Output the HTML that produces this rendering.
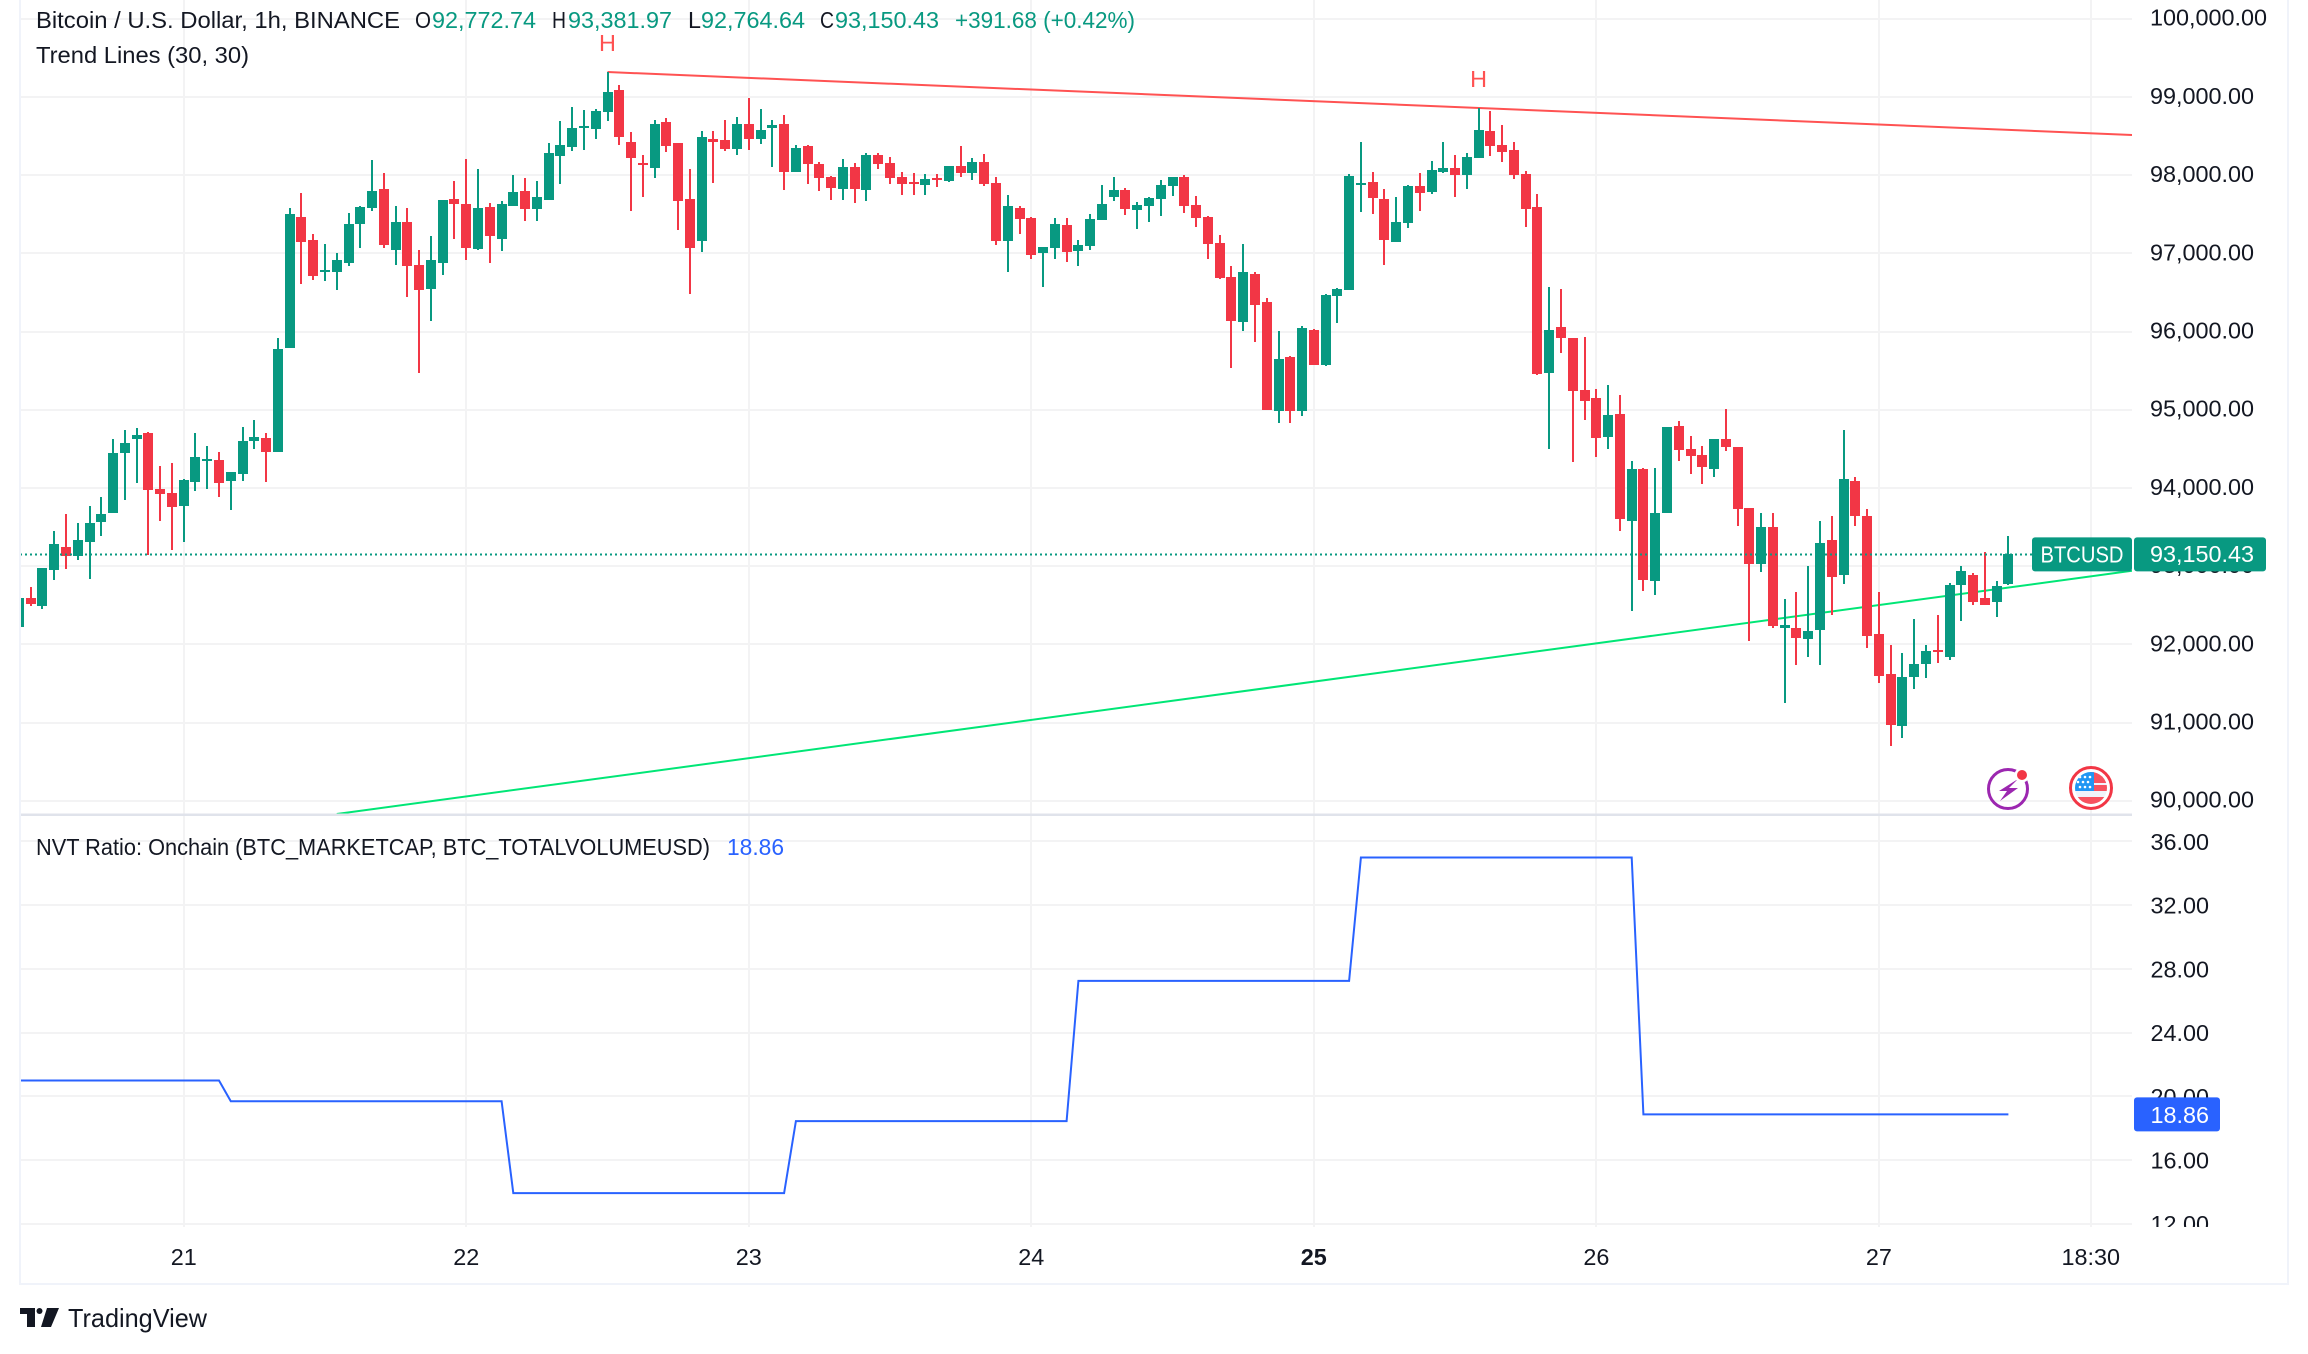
<!DOCTYPE html>
<html lang="en">
<head>
<meta charset="utf-8">
<title>BTCUSD 1h chart with NVT Ratio</title>
<style>
  html,body{margin:0;padding:0;background:#fff;width:2308px;height:1354px;overflow:hidden}
  svg{display:block}
  text{font-family:"Liberation Sans",sans-serif;font-size:23.4px;fill:#131722}
  .up{fill:#089981}
</style>
</head>
<body>
<svg id="chart" xmlns="http://www.w3.org/2000/svg" width="2308" height="1354" viewBox="0 0 2308 1354">
  <defs>
    <clipPath id="price-clip"><rect x="21" y="0" width="2111" height="816"/></clipPath>
    <clipPath id="nvt-clip"><rect x="21" y="816" width="2111" height="411"/></clipPath>
    <clipPath id="nvt-label-clip"><rect x="2134" y="816" width="153" height="411"/></clipPath>
    <clipPath id="flag-clip"><circle cx="2091" cy="788" r="16"/></clipPath>
  </defs>
  <rect x="0" y="0" width="2308" height="1354" fill="#ffffff"/>
  <g id="grid"></g>
  <g id="price-pane" clip-path="url(#price-clip)"></g>
  <g id="nvt-pane" clip-path="url(#nvt-clip)"></g>
  <g id="price-axis"></g>
  <g id="nvt-axis" clip-path="url(#nvt-label-clip)"></g>
  <g id="time-axis"></g>

  <rect x="20" y="813.5" width="2112" height="2.5" fill="#e0e3eb"/>
  <rect x="19" y="0" width="2" height="1285" fill="#f0f3fa"/>
  <rect x="2287" y="0" width="2" height="1285" fill="#f0f3fa"/>
  <rect x="19" y="1283" width="2270" height="2" fill="#f0f3fa"/>

  <g>
    <text x="36" y="28" textLength="364" lengthAdjust="spacingAndGlyphs">Bitcoin / U.S. Dollar, 1h, BINANCE</text>
    <text x="415" y="28" textLength="16" lengthAdjust="spacingAndGlyphs">O</text>
    <text class="up" x="432" y="28" textLength="104" lengthAdjust="spacingAndGlyphs">92,772.74</text>
    <text x="552" y="28" textLength="14" lengthAdjust="spacingAndGlyphs">H</text>
    <text class="up" x="568" y="28" textLength="104" lengthAdjust="spacingAndGlyphs">93,381.97</text>
    <text x="688" y="28">L</text>
    <text class="up" x="701" y="28" textLength="104" lengthAdjust="spacingAndGlyphs">92,764.64</text>
    <text x="820" y="28" textLength="14" lengthAdjust="spacingAndGlyphs">C</text>
    <text class="up" x="835" y="28" textLength="104" lengthAdjust="spacingAndGlyphs">93,150.43</text>
    <text class="up" x="955" y="28" textLength="180" lengthAdjust="spacingAndGlyphs">+391.68 (+0.42%)</text>
    <text x="36" y="63" textLength="213" lengthAdjust="spacingAndGlyphs">Trend Lines (30, 30)</text>
  </g>
  <g>
    <text x="36" y="855" textLength="674" lengthAdjust="spacingAndGlyphs">NVT Ratio: Onchain (BTC_MARKETCAP, BTC_TOTALVOLUMEUSD)</text>
    <text x="727" y="855" textLength="57" lengthAdjust="spacingAndGlyphs" style="fill:#2962ff">18.86</text>
  </g>

  <g>
    <circle cx="2008" cy="789" r="19.5" fill="none" stroke="#9c27b0" stroke-width="3"/>
    <polygon points="2018,779 1999,791 2007,791 2000,801 2018,788 2009,788" fill="#9c27b0"/>
    <circle cx="2022" cy="775" r="7.5" fill="#ffffff"/>
    <circle cx="2022" cy="775" r="5" fill="#f23645"/>
  </g>
  <g>
    <circle cx="2091" cy="788" r="20.5" fill="#ffffff" stroke="#f23645" stroke-width="3"/>
    <g clip-path="url(#flag-clip)">
      <rect x="2075" y="772" width="32" height="32" fill="#f0f3fa"/>
      <rect x="2090" y="772" width="17" height="11" fill="#f7525f"/>
      <rect x="2094" y="785" width="13" height="6" fill="#f7525f"/>
      <rect x="2075" y="797" width="32" height="7" fill="#f7525f"/>
      <rect x="2075" y="772" width="19" height="19" fill="#2196f3"/>
      <g fill="#ffffff">
        <circle cx="2080" cy="777" r="1.3"/><circle cx="2085" cy="777" r="1.3"/><circle cx="2090" cy="777" r="1.3"/>
        <circle cx="2078" cy="782" r="1.3"/><circle cx="2083" cy="782" r="1.3"/><circle cx="2088" cy="782" r="1.3"/>
        <circle cx="2080" cy="787" r="1.3"/><circle cx="2085" cy="787" r="1.3"/><circle cx="2090" cy="787" r="1.3"/>
      </g>
    </g>
  </g>

  <g>
    <path d="M20 1308H35V1327H27V1314H20ZM47 1308H59L51 1327H41Z" fill="#131722"/>
    <circle cx="39.5" cy="1311" r="3" fill="#131722"/>
    <text x="68" y="1327" textLength="139" lengthAdjust="spacingAndGlyphs" style="font-size:26px">TradingView</text>
  </g>
</svg>
<script>
const opens = [
92215,92592,92490,92953,93243,93125,93308,93566,93679,94449,
94626,94702,93986,93938,93771,94077,94347,94357,94088,94180,
94600,94637,94460,95789,97463,97172,96763,96763,96876,97377,
97581,97823,97043,97404,96849,96542,96876,97694,97630,97054,
97592,97183,97608,97796,97565,97683,98243,98361,98614,98593,
98807,99088,98423,98154,98091,98679,98410,97694,97157,98461,
98448,98334,98654,98462,98602,98654,98040,98372,98142,97975,
97822,98103,97809,98257,98154,97975,97911,97873,97963,97924,
98116,98027,98167,97899,97157,97579,97451,97004,97068,97361,
97029,97093,97425,97720,97810,97553,97605,97694,97860,97975,
97617,97464,97131,96696,96121,96735,96376,94981,95672,94981,
96018,95570,96453,96529,97873,97911,97694,97144,97387,97860,
97784,98039,98090,98001,98218,98564,98385,98321,98014,97592,
95469,96057,95916,95251,95148,94656,94951,93581,94246,92815,
93682,94797,94501,94427,94246,94629,94528,93748,93022,93506,
92211,92211,92062,92189,93339,92890,94092,93647,92137,91626,
90961,91586,91753,91930,91841,92762,92890,92586,92546,92772.74];
const highs = [
92592,92732,92980,93448,93668,93550,93771,93884,94626,94739,
94766,94718,94282,94320,94115,94702,94535,94460,94207,94782,
94869,94702,95918,97581,97769,97247,97118,97005,97517,97602,
98194,98028,97608,97581,97043,97220,97683,97925,98205,98076,
97646,97667,98001,97963,97925,98410,98695,98873,98835,98846,
99318,99152,98551,98257,98705,98730,98410,98078,98564,98564,
98705,98743,98986,98845,98705,98769,98385,98385,98167,97988,
98206,98154,98283,98283,98231,98039,98026,98014,98014,98116,
98372,98219,98270,97975,97746,97605,97464,97081,97451,97451,
97170,97502,97873,97975,97835,97656,97720,97937,97975,98001,
97733,97477,97234,96837,97119,96760,96427,96006,95685,96069,
96031,96478,96555,98014,98423,98039,97822,97720,97873,98026,
98180,98423,98257,98283,98858,98820,98641,98423,98052,97758,
96569,96543,95916,95929,95264,95321,95193,94347,94259,94259,
94783,94858,94669,94541,94629,95012,94528,93748,93682,93682,
92573,92674,93004,93581,93647,94744,94145,93735,92674,91996,
91894,92326,91996,92379,92788,93004,92916,93185,92815,93381.97];
const lows = [
92215,92490,92447,92823,92963,93082,92834,93389,93679,93846,
94067,93146,93577,93206,93308,93954,93986,93884,93717,94088,
94497,94077,94460,95789,96607,96661,96645,96532,96838,97070,
97544,97070,96849,96440,95471,96133,96725,97183,96914,97043,
96876,97032,97608,97414,97414,97683,97888,98313,98324,98464,
98692,98385,97541,97720,97963,98295,97297,96479,97016,97899,
98308,98257,98321,98398,98103,97809,98040,97886,97796,97681,
97681,97643,97669,98078,97886,97745,97745,97745,97848,97911,
97975,97937,97860,97106,96760,97247,96927,96569,96927,96888,
96838,97042,97425,97669,97488,97310,97400,97477,97733,97516,
97336,96927,96670,95533,96006,95865,94994,94828,94828,94917,
95570,95557,96108,96529,97527,97502,96850,97144,97323,97540,
97758,98026,97720,97822,98218,98244,98167,97950,97336,95443,
94497,95724,94331,94867,94394,94501,93453,92432,92687,92634,
93682,94347,94184,94052,94145,94475,93519,92048,92929,92211,
91243,91740,91841,91740,92379,92775,93519,91956,91511,90705,
90806,91432,91573,91767,91793,92304,92506,92506,92352,92764.64];
const closes = [
92592,92511,92980,93286,93125,93335,93550,93668,94449,94578,
94680,93970,93921,93755,94104,94395,94373,94067,94207,94600,
94653,94460,95778,97506,97145,96709,96790,96914,97377,97597,
97796,97107,97404,96838,96532,96914,97683,97630,97070,97581,
97221,97630,97786,97565,97721,98286,98388,98604,98630,98819,
99063,98487,98219,98129,98654,98372,97669,97068,98487,98423,
98334,98654,98462,98577,98640,98040,98346,98142,97963,97835,
98103,97822,98257,98142,97963,97886,97886,97950,97937,98116,
98027,98167,97886,97157,97605,97438,96978,97081,97374,97016,
97106,97438,97630,97810,97567,97617,97707,97873,97975,97605,
97451,97119,96683,96134,96760,96338,94994,95646,94981,96043,
95570,96465,96542,97987,97899,97707,97170,97400,97860,97771,
98065,98090,98001,98231,98577,98372,98295,98001,97566,95456,
96018,95916,95238,95110,94637,94937,93607,94246,92828,93682,
94783,94488,94413,94272,94629,94528,93735,93022,93506,92238,
92251,92084,92176,93299,92863,94118,93647,92110,91599,90974,
91586,91753,91908,91908,92762,92942,92546,92506,92749,93150.43];
const nvtValues = [
20.99,20.99,20.99,20.99,20.99,20.99,20.99,20.99,20.99,20.99,20.99,20.99,20.99,20.99,20.99,20.99,20.99,20.99,
19.69,19.69,19.69,19.69,19.69,19.69,19.69,19.69,19.69,19.69,19.69,19.69,19.69,19.69,19.69,19.69,19.69,19.69,19.69,19.69,19.69,19.69,19.69,19.69,
13.92,13.92,13.92,13.92,13.92,13.92,13.92,13.92,13.92,13.92,13.92,13.92,13.92,13.92,13.92,13.92,13.92,13.92,13.92,13.92,13.92,13.92,13.92,13.92,
18.44,18.44,18.44,18.44,18.44,18.44,18.44,18.44,18.44,18.44,18.44,18.44,18.44,18.44,18.44,18.44,18.44,18.44,18.44,18.44,18.44,18.44,18.44,18.44,
27.24,27.24,27.24,27.24,27.24,27.24,27.24,27.24,27.24,27.24,27.24,27.24,27.24,27.24,27.24,27.24,27.24,27.24,27.24,27.24,27.24,27.24,27.24,27.24,
34.99,34.99,34.99,34.99,34.99,34.99,34.99,34.99,34.99,34.99,34.99,34.99,34.99,34.99,34.99,34.99,34.99,34.99,34.99,34.99,34.99,34.99,34.99,34.99,
18.86,18.86,18.86,18.86,18.86,18.86,18.86,18.86,18.86,18.86,18.86,18.86,18.86,18.86,18.86,18.86,18.86,18.86,18.86,18.86,18.86,18.86,18.86,18.86,18.86,18.86,18.86,18.86,18.86,18.86,18.86,18.86];
const priceTicks = [90000,91000,92000,93000,94000,95000,96000,97000,98000,99000,100000];
const priceTickLabels = ["90,000.00","91,000.00","92,000.00","93,000.00","94,000.00","95,000.00","96,000.00","97,000.00","98,000.00","99,000.00","100,000.00"];
const nvtTicks = [12,16,20,24,28,32,36];
const nvtTickLabels = ["12.00","16.00","20.00","24.00","28.00","32.00","36.00"];
const timeTickBars = [14,38,62,86,110,134,158,176];
const timeTickLabels = ["21","22","23","24","25","26","27","18:30"];
const pivotHighBars = [50,124];
const pivotLabels = ["H","H"];
const supportBars = [27,179.5];
const supportPrices = [89830,92940];
const lastPriceTag = "BTCUSD";
const lastPriceLabel = "93,150.43";
const lastNvtLabel = "18.86";

const NS = "http://www.w3.org/2000/svg";
const PANE_LEFT = 20, PANE_RIGHT = 2132, PANE2_BOTTOM = 1227;
function xAt(i){ return 18.9 + i * 11.772; }
function yPrice(p){ return 800.7 - (p - 90000) * 0.0782; }
function yNvt(v){ return 1223.7 - (v - 12) * 15.93; }
function mk(tag, attrs, parent){
  const el = document.createElementNS(NS, tag);
  for (const k in attrs) el.setAttribute(k, attrs[k]);
  parent.appendChild(el);
  return el;
}
const grid = document.getElementById('grid');
const pricePane = document.getElementById('price-pane');
const nvtPane = document.getElementById('nvt-pane');
const priceAxis = document.getElementById('price-axis');
const nvtAxis = document.getElementById('nvt-axis');
const timeAxis = document.getElementById('time-axis');
const GRID = '#f3f3f4';

priceTicks.forEach(function(p, k){
  const line = mk('rect', {x:PANE_LEFT, y:Math.round(yPrice(p))-1, width:PANE_RIGHT-PANE_LEFT, height:2, fill:GRID}, grid);
  
  
  const t = mk('text', {x:2150, y:yPrice(p)+7}, priceAxis);
  t.textContent = priceTickLabels[k];
  
  
});
nvtTicks.forEach(function(v, k){
  const line = mk('rect', {x:PANE_LEFT, y:Math.round(yNvt(v))-1, width:PANE_RIGHT-PANE_LEFT, height:2, fill:GRID}, grid);
  
  
  const t = mk('text', {x:2209, y:yNvt(v)+8.5, 'text-anchor':'end'}, nvtAxis);
  t.textContent = nvtTickLabels[k];
  
  
});
timeTickBars.forEach(function(b, k){
  const line = mk('rect', {x:Math.round(xAt(b))-1, y:0, width:2, height:PANE2_BOTTOM, fill:GRID}, grid);
  
  
  const t = mk('text', {x:xAt(b), y:1265, 'text-anchor':'middle'}, timeAxis);
  if (timeTickLabels[k] === '25') t.setAttribute('font-weight', 'bold');
  t.textContent = timeTickLabels[k];
  
  
});

/* trend lines */
const resA = pivotHighBars[0], resB = pivotHighBars[1];
const resSlope = (yPrice(highs[resB]) - yPrice(highs[resA])) / (xAt(resB) - xAt(resA));
const resistance = mk('line', {x1:xAt(resA), y1:yPrice(highs[resA]), x2:PANE_RIGHT, y2:yPrice(highs[resA]) + (PANE_RIGHT - xAt(resA)) * resSlope, stroke:'#ff5252', 'stroke-width':2}, pricePane);


const support = mk('line', {x1:xAt(supportBars[0]), y1:yPrice(supportPrices[0]), x2:xAt(supportBars[1]), y2:yPrice(supportPrices[1]), stroke:'#00e676', 'stroke-width':2}, pricePane);



/* candles */
closes.forEach(function(c, i){
  const o = opens[i], up = c >= o, col = up ? '#089981' : '#f23645';
  const cx = Math.round(xAt(i));
  const wick = mk('rect', {x:cx-1, y:Math.round(yPrice(highs[i])), width:2, height:Math.max(1, Math.round(yPrice(lows[i]))-Math.round(yPrice(highs[i]))), fill:col}, pricePane);
  
  
  const top = Math.round(yPrice(Math.max(o, c))), bot = Math.round(yPrice(Math.min(o, c)));
  const body = mk('rect', {x:cx-5, y:top, width:10, height:Math.max(2, bot-top), fill:col}, pricePane);
  
  
});

/* pivot labels */
pivotHighBars.forEach(function(b, k){
  const t = mk('text', {x:xAt(b), y:yPrice(highs[b])-21, 'text-anchor':'middle', style:'fill:#ff5252'}, pricePane);
  t.textContent = pivotLabels[k];
  
  
});

/* last price line */
const lastY = yPrice(closes[closes.length-1]);
const lastLine = mk('line', {x1:PANE_LEFT, y1:Math.round(lastY)+0.5, x2:2032, y2:Math.round(lastY)+0.5, stroke:'#089981', 'stroke-width':2, 'stroke-dasharray':'2 3'}, pricePane);



const tag = mk('rect', {x:2032, y:lastY-17, width:100, height:34, rx:3, fill:'#089981'}, priceAxis);


const tagText = mk('text', {x:2082, y:lastY+8, 'text-anchor':'middle', textLength:83, lengthAdjust:'spacingAndGlyphs', style:'fill:#ffffff'}, priceAxis);
tagText.textContent = lastPriceTag;


const priceTag = mk('rect', {x:2134, y:lastY-17, width:132, height:34, rx:3, fill:'#089981'}, priceAxis);


const priceTagText = mk('text', {x:2150, y:lastY+7.5, style:'fill:#ffffff'}, priceAxis);
priceTagText.textContent = lastPriceLabel;



/* NVT line */
const nvtPts = nvtValues.map(function(v, i){ return xAt(i).toFixed(1) + ',' + yNvt(v).toFixed(1); }).join(' ');
const nvtLine = mk('polyline', {points:nvtPts, fill:'none', stroke:'#2962ff', 'stroke-width':2, 'stroke-linejoin':'miter'}, nvtPane);



const lastNvtY = yNvt(nvtValues[nvtValues.length-1]);
const nvtTag = mk('rect', {x:2134, y:lastNvtY-17, width:86, height:34, rx:3, fill:'#2962ff'}, nvtAxis);


const nvtTagText = mk('text', {x:2209, y:lastNvtY+8.5, 'text-anchor':'end', style:'fill:#ffffff'}, nvtAxis);
nvtTagText.textContent = lastNvtLabel;


</script>
</body>
</html>
